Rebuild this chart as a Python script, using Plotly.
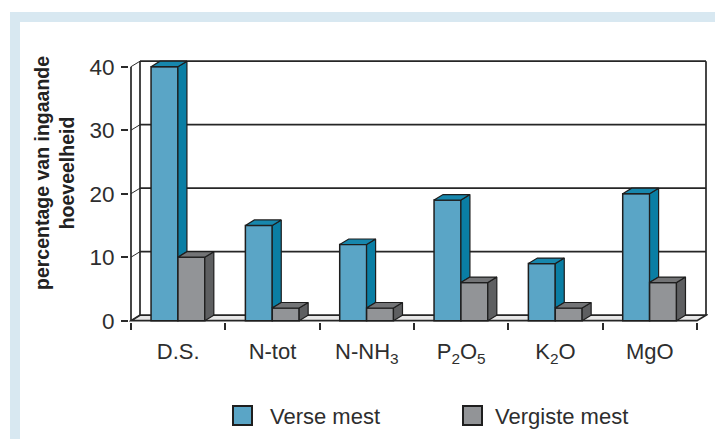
import plotly.graph_objects as go

# ---------------- data ----------------
categories = ["D.S.", "N-tot", "N-NH<sub>3</sub>", "P<sub>2</sub>O<sub>5</sub>", "K<sub>2</sub>O", "MgO"]
verse_mest = [40, 15, 12, 19, 9, 20]
vergiste_mest = [10, 2, 2, 6, 2, 6]
y_ticks = [0, 10, 20, 30, 40]
series_names = ["Verse mest", "Vergiste mest"]

# ---------------- styling / geometry ----------------
OFF = 8                       # default page (body) margin in the browser
W, H = 723 - OFF, 439 - OFF
ML, MR, MT, MB = 129 - OFF, 15, 59 - OFF, 117
PX_CAT = 566 / 6.0            # pixels per category
PX_UNIT = 254 / 40.0          # pixels per y unit
X_RANGE = [-0.5 - 2 / PX_CAT, 5.5 + 11 / PX_CAT]
Y_RANGE = [-1.3 / PX_UNIT, 40 + 7.7 / PX_UNIT]
DX = 9 / PX_CAT               # depth offset (x)
DY = 5.5 / PX_UNIT            # depth offset (y)
BW = 0.285                    # bar width
OFFS = [-0.145, 0.14]
FRONT = ["#5aa5c6", "#929497"]
SIDE = ["#0a7ea4", "#5e5f61"]
TOP = ["#1787ad", "#737476"]
EDGE = "#1e1e1e"
TXT = "#2e2e2e"
FONT = "Liberation Sans, Arial, sans-serif"

PW = W - ML - MR
PH = H - MT - MB


def px(xp):
    """page x pixel -> paper coordinate"""
    return (xp - OFF - ML) / PW


def py(yp):
    """page y pixel -> paper coordinate"""
    return (H - MB - (yp - OFF)) / PH


fig = go.Figure()

# front faces of bars
vals = [verse_mest, vergiste_mest]
for s in range(2):
    fig.add_trace(go.Bar(
        x=[i + OFFS[s] for i in range(len(categories))],
        y=vals[s], width=BW, name=series_names[s],
        marker=dict(color=FRONT[s], line=dict(color=EDGE, width=1.5)),
        showlegend=False, hoverinfo="skip"))

# side and top faces (3D effect), computed from the data
for s in range(2):
    sx, sy, tx, ty = [], [], [], []
    for i in range(len(categories)):
        h = vals[s][i]
        l = i + OFFS[s] - BW / 2
        r = i + OFFS[s] + BW / 2
        h_lo = vergiste_mest[i] if s == 0 else 0
        sx += [r, r + DX, r + DX, r, r, None]
        sy += [h_lo, h_lo + DY, h + DY, h, h_lo, None]
        tx += [l, l + DX, r + DX, r, l, None]
        ty += [h, h + DY, h + DY, h, h, None]
    fig.add_trace(go.Scatter(x=sx, y=sy, mode="lines", fill="toself", fillcolor=SIDE[s],
                             line=dict(color=EDGE, width=1.2), showlegend=False,
                             hoverinfo="skip", cliponaxis=False))
    fig.add_trace(go.Scatter(x=tx, y=ty, mode="lines", fill="toself", fillcolor=TOP[s],
                             line=dict(color=EDGE, width=1.2), showlegend=False,
                             hoverinfo="skip", cliponaxis=False))

shapes = []
# blue frame
shapes.append(dict(type="rect", xref="paper", yref="paper", x0=px(10), x1=px(723), y0=py(12), y1=py(439),
                   fillcolor="#d8e8f1", line=dict(width=0), layer="below"))
shapes.append(dict(type="rect", xref="paper", yref="paper", x0=px(20), x1=px(723), y0=py(22), y1=py(439),
                   fillcolor="white", line=dict(width=0), layer="below"))
x0, x1 = -0.5, 5.5
line_style = dict(color="#262626", width=1.7)
# floor
shapes.append(dict(type="path", xref="x", yref="y", layer="below",
                   path=f"M {x0},0 L {x1},0 L {x1 + DX},{DY} L {x0 + DX},{DY} Z",
                   fillcolor="#e8e8e8", line=line_style))
# back wall gridlines and left wall diagonals
for v in y_ticks:
    if v > 0:
        shapes.append(dict(type="line", xref="x", yref="y", layer="below",
                           x0=x0 + DX, x1=x1 + DX, y0=v + DY, y1=v + DY, line=line_style))
    shapes.append(dict(type="line", xref="x", yref="y", layer="below",
                       x0=x0, x1=x0 + DX, y0=v, y1=v + DY, line=dict(color="#2a2a2a", width=1)))
# back wall vertical edges
for xe in (x0 + DX, x1 + DX):
    shapes.append(dict(type="line", xref="x", yref="y", layer="below",
                       x0=xe, x1=xe, y0=DY, y1=max(y_ticks) + DY, line=line_style))
# front y-axis line
shapes.append(dict(type="line", xref="x", yref="y", layer="below",
                   x0=x0, x1=x0, y0=0, y1=max(y_ticks), line=line_style))

# manual legend
annotations = []
leg_sq = [(233, 252), (463, 482)]
leg_tx = [268, 493]
for s in range(2):
    a, b = leg_sq[s]
    shapes.append(dict(type="rect", xref="paper", yref="paper", x0=px(a), x1=px(b),
                       y0=py(425), y1=py(406), fillcolor=FRONT[s],
                       line=dict(color=EDGE, width=2)))
    annotations.append(dict(xref="paper", yref="paper", x=px(leg_tx[s]), y=py(416),
                            xanchor="left", yanchor="middle", showarrow=False,
                            text=series_names[s], font=dict(family=FONT, size=22, color=TXT)))

# y-axis title
annotations.append(dict(xref="paper", yref="paper", x=px(54), y=py(173), showarrow=False,
                        textangle=-90, xanchor="center", yanchor="middle",
                        text="<b>percentage van ingaande<br>hoeveelheid</b>",
                        font=dict(family=FONT, size=19.5, color="#222222")))

fig.update_layout(
    width=W, height=H,
    margin=dict(l=ML, r=MR, t=MT, b=MB, pad=0),
    paper_bgcolor="white", plot_bgcolor="rgba(0,0,0,0)",
    barmode="overlay", showlegend=False,
    shapes=shapes, annotations=annotations,
    xaxis=dict(range=X_RANGE, tickvals=list(range(len(categories))), ticktext=categories,
               ticks="", showgrid=False, zeroline=False, showline=False,
               tickfont=dict(family=FONT, size=22, color=TXT), ticklabelstandoff=14,
               minor=dict(tickvals=[k - 0.5 for k in range(len(categories) + 1)],
                          ticks="outside", ticklen=7, tickwidth=1.5, tickcolor="#2a2a2a",
                          showgrid=False)),
    yaxis=dict(range=Y_RANGE, tickvals=y_ticks, ticks="outside", ticklen=7, tickwidth=1.5,
               tickcolor="#2a2a2a", showgrid=False, zeroline=False, showline=False,
               tickfont=dict(family=FONT, size=22.5, color=TXT), ticklabelstandoff=2),
)

fig.write_html("out.html")
